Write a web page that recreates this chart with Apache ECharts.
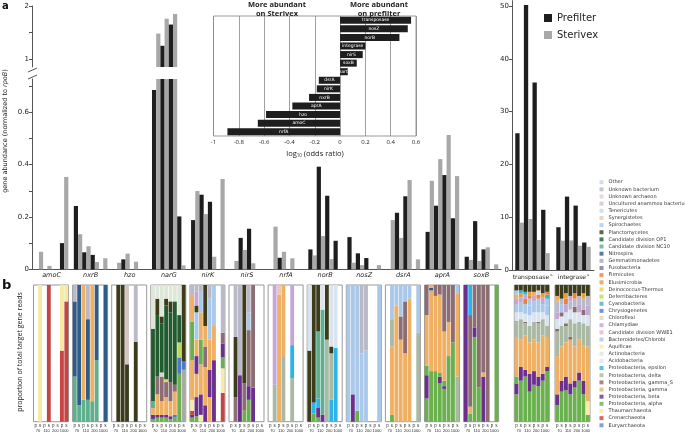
<!DOCTYPE html>
<html>
<head>
<meta charset="utf-8">
<script src="https://cdn.jsdelivr.net/npm/echarts@6/dist/echarts.min.js"></script>
<style>
html, body { margin: 0; padding: 0; background: #fff; }
#chart { width: 685px; height: 433px; }
</style>
</head>
<body>
<div id="chart"></div>
<script>
// panel a: abundance normalized to rpoB, order p70 s70 p110 s110 p200 s200 p1000 s1000
var genes = ['amoC', 'nxrB', 'hzo', 'narG', 'nirK', 'nirS', 'nrfA', 'norB', 'nosZ', 'dsrA', 'aprA', 'soxB'];
var mobileGenes = ['transposase', 'integrase'];
var depths = ['70', '110', '200', '1000'];
var fractions = ['p70', 's70', 'p110', 's110', 'p200', 's200', 'p1000', 's1000'];

var amoC = [0, 0.067, 0, 0.013, 0, 0, 0.10, 0.353];
var nxrB = [0.242, 0.134, 0.065, 0.088, 0.055, 0.028, 0, 0.042];
var hzo  = [0, 0.025, 0.038, 0.06, 0, 0.029, 0, 0];
var narG = [0.685, 1.48, 1.25, 1.76, 1.65, 1.85, 0.202, 0.015];
var nirK = [0.188, 0.299, 0.285, 0.211, 0.258, 0.048, 0, 0.345];
var nirS = [0, 0.032, 0.12, 0.074, 0.155, 0.023, 0, 0];
var nrfA = [0, 0.163, 0.044, 0.067, 0, 0.042, 0, 0];
var norB = [0.076, 0.053, 0.392, 0.127, 0.281, 0.039, 0.109, 0];
var nosZ = [0.123, 0.025, 0.061, 0.016, 0.043, 0, 0, 0.016];
var dsrA = [0, 0.188, 0.216, 0.12, 0.279, 0.341, 0, 0.038];
var aprA = [0.143, 0.338, 0.243, 0.421, 0.36, 0.513, 0.195, 0.356];
var soxB = [0.048, 0.036, 0.184, 0.032, 0.076, 0.084, 0, 0.019];
var transposase = [25.9, 8.96, 50.2, 9.66, 35.5, 5.68, 11.4, 3.2];
var integrase   = [8.1, 5.55, 13.9, 5.6, 12.2, 4.6, 5.2, 4.4];

// inset: log10 odds ratio
var insetGenes = ['transposase', 'nosZ', 'norB', 'integrase', 'nirS', 'soxB', 'narG', 'dsrA', 'nirK', 'nxrB', 'aprA', 'hzo', 'amoC', 'nrfA'];
var insetLogOdds = [0.561, 0.535, 0.469, 0.2, 0.179, 0.132, 0.061, -0.168, -0.184, -0.245, -0.377, -0.585, -0.65, -0.89];

// panel b: taxa
var taxa = ['Other', 'Unknown bacterium', 'Unknown archaeon', 'Uncultured anammox bacterium', 'Tenericutes',
  'Synergistetes', 'Spirochaetes', 'Planctomycetes', 'Candidate division OP1', 'Candidate division NC10',
  'Nitrospira', 'Gemmatimonadetes', 'Fusobacteria', 'Firmicutes', 'Elusimicrobia', 'Deinococcus-Thermus',
  'Deferribacteres', 'Cyanobacteria', 'Chrysiogenetes', 'Chloroflexi', 'Chlamydiae', 'Candidate division WWE1',
  'Bacteroidetes/Chlorobi', 'Aquificae', 'Actinobacteria', 'Acidobacteria', 'Proteobacteria, epsilon',
  'Proteobacteria, delta', 'Proteobacteria, gamma_S', 'Proteobacteria, gamma', 'Proteobacteria, beta',
  'Proteobacteria, alpha', 'Thaumarchaeota', 'Crenarchaeota', 'Euryarchaeota'];
var taxKeys = ['oth', 'unb', 'una', 'ana', 'ten', 'syn', 'spi', 'pla', 'op1', 'nc10', 'nit', 'gem', 'fus', 'fir',
  'elu', 'dei', 'def', 'cya', 'chr', 'chl', 'chm', 'wwe', 'bac', 'aqu', 'act', 'aci', 'eps', 'del', 'gS', 'gam',
  'bet', 'alp', 'tha', 'cre', 'eur'];
var taxColors = ['#c9d7e8', '#b9b9c9', '#d5d5d5', '#d6c4c4', '#c3d9ec', '#f0c6a6', '#a8c9ea', '#3c3c1c', '#215b2f',
  '#5fae8e', '#2f5d8a', '#a9a9a9', '#7474ae', '#e9843e', '#e5a03c', '#f1d04b', '#bfd75b', '#3fb1c4', '#4d7ac8',
  '#e6d3ae', '#c6a6d6', '#e6b4c6', '#a9c8ea', '#f6eba9', '#dfe8d8', '#dae4ef', '#2bb3ea', '#a9b9a3', '#8c6d74',
  '#f0b063', '#6b2f8e', '#6bb04e', '#f6e9a2', '#c84444', '#5b8bd3'];

// each bar: [taxon, cumulative top] from bottom to top
var amoC_b = [[], [['tha', 1]], [], [['cre', 1]], [], [], [['cre', .52], ['tha', 1]], [['cre', .88], ['tha', 1]]];
var nxrB_b = [[['nc10', .33], ['nit', .88], ['unb', 1]], [['nc10', .12], ['nit', 1]], [['nc10', .16], ['gam', 1]],
  [['nc10', .16], ['nit', .75], ['unb', 1]], [['nc10', .15], ['gam', 1]], [['nc10', .45], ['nit', 1]], [], [['nit', 1]]];
var hzo_b = [[], [['pla', 1]], [['pla', 1]], [['pla', .42], ['ana', 1]], [], [['pla', .585], ['unb', 1]], [], []];
var narG_b = [
  [['alp', .02], ['bet', .05], ['gam', .1], ['nc10', .15], ['op1', .68], ['act', 1]],
  [['alp', .03], ['bet', .05], ['gam', .2], ['gS', .33], ['op1', .78], ['pla', .9], ['act', 1]],
  [['alp', .03], ['bet', .05], ['gam', .15], ['gS', .33], ['una', .36], ['op1', .72], ['pla', .77], ['act', 1]],
  [['alp', .03], ['bet', .05], ['gam', .18], ['gS', .29], ['dei', .31], ['op1', .85], ['pla', .9], ['act', 1]],
  [['alp', .02], ['bet', .04], ['gam', .15], ['gS', .29], ['op1', .8], ['pla', .88], ['act', 1]],
  [['alp', .03], ['chr', .05], ['gam', .22], ['gS', .27], ['op1', .88], ['act', 1]],
  [['alp', .35], ['chr', .47], ['def', .58], ['op1', .78], ['act', 1]],
  [['gem', .38], ['chr', .44], ['pla', 1]]];
var nirK_b = [
  [['alp', .03], ['bet', .05], ['cre', .08], ['aqu', .16], ['gam', .45], ['alp', .73], ['gam', .92], ['unb', 1]],
  [['alp', .04], ['bet', .18], ['gam', .35], ['bet', .48], ['gam', .6], ['spi', .8], ['pla', .85], ['chm', .95], ['unb', 1]],
  [['aqu', .05], ['bet', .2], ['gam', .42], ['alp', .6], ['gam', .8], ['spi', .95], ['unb', 1]],
  [['bet', .12], ['gam', .4], ['gS', .55], ['gam', .7], ['pla', 1]],
  [['gam', .18], ['bet', .38], ['gam', .6], ['spi', .9], ['unb', 1]],
  [['bet', .45], ['gam', .7], ['spi', 1]],
  [],
  [['cre', .21], ['aqu', .39], ['alp', .47], ['bet', .57], ['gS', .65], ['unb', 1]]];
var nirS_b = [[], [['gS', .18], ['pla', .62], ['unb', 1]], [['bet', .34], ['unb', 1]], [['alp', .08], ['gS', .28], ['pla', 1]],
  [['alp', .16], ['bet', .26], ['gS', .67], ['spi', .8], ['unb', 1]], [['bet', .25], ['gS', 1]], [], []];
var nrfA_b = [[], [['del', .27], ['chm', 1]], [['gam', .93], ['syn', 1]], [['del', .48], ['gam', 1]], [],
  [['del', .32], ['eps', .56], ['chm', 1]], [], []];
var norB_b = [[['pla', .52], ['aci', 1]], [['alp', .06], ['eps', .14], ['pla', 1]],
  [['alp', .03], ['bet', .1], ['eps', .17], ['nc10', .66], ['pla', 1]], [['bet', .05], ['nc10', .82], ['aci', 1]],
  [['del', .6], ['pla', 1]], [['eps', .16], ['del', .5], ['pla', .55], ['aci', 1]], [['eps', .54], ['aci', 1]], []];
var nosZ_b = [[['bac', 1]], [['bet', .2], ['bac', 1]], [['alp', .08], ['bac', 1]], [['bac', .5], ['unb', 1]],
  [['bac', .52], ['unb', 1]], [], [], [['bac', 1]]];
var dsrA_b = [[], [['alp', .05], ['gam', .55], ['del', .75], ['bac', 1]], [['gam', .85], ['bac', 1]],
  [['gam', .6], ['gS', .77], ['bac', 1]], [['gam', .5], ['gS', .88], ['bac', 1]], [['gam', .9], ['bac', 1]], [],
  [['del', .65], ['bac', 1]]];
var aprA_b = [
  [['alp', .17], ['bet', .34], ['alp', .41], ['gam', .78], ['gS', 1]],
  [['alp', .37], ['gam', .96], ['nit', .98], ['gam', 1]],
  [['alp', .37], ['gam', .92], ['gS', 1]],
  [['alp', .28], ['bet', .33], ['alp', .36], ['gam', .93], ['gS', 1]],
  [['alp', .24], ['bet', .26], ['alp', .3], ['gam', .66], ['gS', 1]],
  [['alp', .48], ['gam', .73], ['gS', 1]],
  [['alp', .58], ['gS', 1]],
  [['del', .33], ['gam', .94], ['bac', 1]]];
var soxB_b = [[['bet', 1]], [['alp', .06], ['gam', .11], ['gS', .78], ['eps', 1]], [['alp', .62], ['bet', .69], ['gS', 1]],
  [['alp', .25], ['gS', 1]], [['bet', .33], ['gam', .36], ['gS', 1]], [['gS', 1]], [], [['alp', 1]]];
var transposase_b = [
  [['alp', .2], ['bet', .28], ['alp', .33], ['gam', .62], ['del', .74], ['aci', .8], ['bac', .86], ['chm', .9], ['gam', .93], ['spi', .96], ['pla', 1]],
  [['alp', .3], ['bet', .4], ['gam', .6], ['del', .75], ['aci', .8], ['bac', .87], ['chm', .91], ['elu', .94], ['eps', .96], ['pla', 1]],
  [['alp', .33], ['bet', .38], ['gam', .63], ['del', .72], ['gS', .73], ['aci', .79], ['bac', .86], ['fir', .9], ['chm', .93], ['cya', .95], ['pla', 1]],
  [['alp', .22], ['bet', .35], ['gam', .58], ['del', .7], ['aci', .78], ['bac', .85], ['spi', .9], ['fir', .92], ['elu', .95], ['pla', 1]],
  [['alp', .27], ['bet', .37], ['gam', .6], ['del', .73], ['aci', .8], ['bac', .88], ['chm', .92], ['gam', .95], ['pla', 1]],
  [['alp', .26], ['bet', .33], ['gam', .58], ['del', .72], ['gS', .73], ['aci', .8], ['bac', .86], ['spi', .9], ['fir', .93], ['una', .96], ['pla', 1]],
  [['alp', .3], ['bet', .35], ['gam', .63], ['del', .75], ['aci', .8], ['bac', .86], ['chm', .91], ['elu', .94], ['pla', 1]],
  [['alp', .37], ['bet', .4], ['gam', .62], ['del', .7], ['aci', .78], ['bac', .85], ['spi', .9], ['cya', .93], ['fir', .95], ['pla', 1]]];
var integrase_b = [
  [['alp', .12], ['bet', .2], ['gam', .48], ['del', .66], ['gS', .68], ['aci', .75], ['chm', .8], ['unb', .88], ['gam', .92], ['pla', 1]],
  [['alp', .22], ['bet', .3], ['gam', .55], ['del', .7], ['aci', .77], ['gS', .8], ['spi', .86], ['unb', .9], ['pla', 1]],
  [['alp', .23], ['bet', .33], ['gam', .58], ['del', .7], ['gS', .72], ['aci', .8], ['chm', .86], ['fir', .9], ['elu', .94], ['pla', 1]],
  [['alp', .2], ['bet', .28], ['gam', .6], ['gS', .62], ['del', .75], ['aci', .82], ['unb', .88], ['chm', .92], ['pla', 1]],
  [['alp', .25], ['bet', .3], ['gam', .55], ['del', .72], ['aci', .8], ['gS', .84], ['unb', .9], ['fir', .94], ['pla', 1]],
  [['alp', .3], ['bet', .36], ['gam', .6], ['del', .73], ['aci', .8], ['chm', .86], ['unb', .92], ['pla', 1]],
  [['alp', .2], ['bet', .3], ['gam', .56], ['del', .72], ['aci', .78], ['gS', .82], ['unb', .9], ['elu', .94], ['pla', 1]],
  [['alp', .05], ['aqu', .15], ['gam', .55], ['del', .7], ['aci', .78], ['chm', .85], ['unb', .92], ['pla', 1]]];

var geneRows = [amoC, nxrB, hzo, narG, nirK, nirS, nrfA, norB, nosZ, dsrA, aprA, soxB];
var mobileRows = [transposase, integrase];
var stacks = [amoC_b, nxrB_b, hzo_b, narG_b, nirK_b, nirS_b, nrfA_b, norB_b, nosZ_b, dsrA_b, aprA_b, soxB_b, transposase_b, integrase_b];

var chart = echarts.init(document.getElementById('chart'));
var FONT = 'DejaVu Sans';
var axisGray = '#555';
var barColors = ['#1e1e1e', '#a8a8a8'];
var lowMax = 0.727, highMin = 0.85;

var grids = [
  { left: 32, top: 79, width: 469, height: 190.3 },          // a lower
  { left: 32, top: 6, width: 469, height: 61 },              // a upper (break)
  { left: 213.5, top: 16, width: 202.5, height: 120, show: true, borderColor: '#999', borderWidth: 1, backgroundColor: '#fff' },
  { left: 512, top: 0.7, width: 82, height: 269.3 }          // transposase / integrase
];
var xAxes = [
  { gridIndex: 0, type: 'category', data: genes,
    axisLine: { lineStyle: { color: axisGray } }, axisTick: { length: 4, lineStyle: { color: axisGray } },
    axisLabel: { fontStyle: 'italic', fontSize: 6.5, color: '#222', margin: 3, fontFamily: FONT, interval: 0 } },
  { gridIndex: 1, type: 'category', data: genes, show: false },
  { gridIndex: 2, type: 'value', min: -1, max: 0.6, interval: 0.2,
    axisLine: { show: false }, axisTick: { show: false },
    axisLabel: { fontSize: 6, color: '#222', margin: 3, fontFamily: 'Open Sans' },
    splitLine: { show: true, lineStyle: { color: '#888', width: 0.8 } } },
  { gridIndex: 3, type: 'category', data: mobileGenes,
    axisLine: { lineStyle: { color: axisGray } }, axisTick: { length: 4, lineStyle: { color: axisGray } },
    axisLabel: { margin: 3, interval: 0, formatter: function (v) { return '{n|' + v + '}{s|a}'; },
      rich: { n: { fontSize: 6, color: '#222', fontFamily: FONT }, s: { fontSize: 4, color: '#444', verticalAlign: 'top', padding: [0, 0, 4, 1] } } } }
];
var yAxes = [
  { gridIndex: 0, type: 'value', min: 0, max: lowMax,
    axisLine: { show: true, lineStyle: { color: axisGray } },
    axisTick: { show: true, length: 3, lineStyle: { color: axisGray }, customValues: [0, 0.1, 0.2, 0.3, 0.4, 0.5, 0.6, 0.7] },
    axisLabel: { customValues: [0, 0.2, 0.4, 0.6], fontSize: 7, color: '#222', margin: 3, fontFamily: FONT },
    splitLine: { show: false } },
  { gridIndex: 1, type: 'value', min: highMin, max: 2,
    axisLine: { show: true, lineStyle: { color: axisGray } },
    axisTick: { show: true, length: 3, lineStyle: { color: axisGray }, customValues: [1, 1.5, 2] },
    axisLabel: { customValues: [1, 2], fontSize: 7, color: '#222', margin: 3, fontFamily: FONT },
    splitLine: { show: false } },
  { gridIndex: 2, type: 'category', data: insetGenes, inverse: true, show: false },
  { gridIndex: 3, type: 'value', min: 0, max: 51,
    axisLine: { show: true, lineStyle: { color: axisGray } },
    axisTick: { show: true, length: 3, lineStyle: { color: axisGray }, customValues: [0, 10, 20, 30, 40, 50] },
    axisLabel: { customValues: [0, 10, 20, 30, 40, 50], fontSize: 7, color: '#222', margin: 3, fontFamily: FONT },
    splitLine: { show: false } }
];

var series = [];
fractions.forEach(function (f, j) {
  var name = j % 2 ? 'Sterivex' : 'Prefilter';
  var color = barColors[j % 2];
  series.push({ type: 'bar', name: name, xAxisIndex: 0, yAxisIndex: 0, barGap: 0, barCategoryGap: '14%',
    itemStyle: { color: color }, data: geneRows.map(function (r) { return r[j]; }) });
  series.push({ type: 'bar', name: name, xAxisIndex: 1, yAxisIndex: 1, barGap: 0, barCategoryGap: '14%',
    itemStyle: { color: color }, data: geneRows.map(function (r) { return r[j] > highMin ? r[j] : '-'; }) });
  series.push({ type: 'bar', name: name, xAxisIndex: 3, yAxisIndex: 3, barGap: 0, barCategoryGap: '16%',
    itemStyle: { color: color }, data: mobileRows.map(function (r) { return r[j]; }) });
});

series.push({ type: 'bar', xAxisIndex: 2, yAxisIndex: 2, barCategoryGap: '18%', itemStyle: { color: '#1e1e1e' },
  data: insetLogOdds,
  label: { show: true, position: 'inside', color: '#fff', fontSize: 4.5, fontFamily: FONT,
    formatter: function (p) { return p.name; } } });

// panel b grids
stacks.forEach(function (bars, p) {
  var left = p < 12 ? 33.5 + p * 39.1 : [514.3, 555][p - 12];
  grids.push({ left: left, top: 285, width: 35, height: 136.7, show: true, borderColor: '#999', borderWidth: 1 });
  var gi = grids.length - 1;
  xAxes.push({ gridIndex: gi, type: 'category', data: fractions,
    axisLine: { show: false }, axisTick: { show: false },
    axisLabel: { interval: 0, fontSize: 4.5, color: '#333', margin: 2, formatter: function (v) { return v.charAt(0); } } });
  var xi = xAxes.length - 1;
  xAxes.push({ gridIndex: gi, type: 'category', data: depths, position: 'bottom', offset: 5,
    axisLine: { show: false }, axisTick: { show: false },
    axisLabel: { interval: 0, fontSize: 4, color: '#333', margin: 2 } });
  yAxes.push({ gridIndex: gi, type: 'value', min: 0, max: 1, show: false });
  var yi = yAxes.length - 1;
  var n = Math.max.apply(null, bars.map(function (b) { return b.length; }));
  for (var k = 0; k < n; k++) {
    series.push({ type: 'bar', stack: 'b' + p, xAxisIndex: xi, yAxisIndex: yi, barCategoryGap: '12%', silent: true,
      data: bars.map(function (b) {
        if (!b[k]) return '-';
        var prev = k ? b[k - 1][1] : 0;
        return { value: +(b[k][1] - prev).toFixed(3), itemStyle: { color: taxColors[taxKeys.indexOf(b[k][0])] } };
      }) });
  }
});

// legend-only series for the taxa
taxa.forEach(function (t, i) {
  series.push({ type: 'scatter', name: t, xAxisIndex: 0, yAxisIndex: 0, data: [], itemStyle: { color: taxColors[i] } });
});

var option = {
  animation: false,
  backgroundColor: '#fff',
  grid: grids,
  xAxis: xAxes,
  yAxis: yAxes,
  series: series,
  legend: [
    { data: ['Prefilter', 'Sterivex'], left: 544, top: 12, orient: 'vertical', padding: 0, itemWidth: 8, itemHeight: 8,
      itemGap: 5, icon: 'rect', selectedMode: false,
      textStyle: { fontSize: 10, color: '#222', fontFamily: FONT, lineHeight: 12 } },
    { data: taxa, left: 599.5, top: 178.6, orient: 'vertical', padding: 0, itemWidth: 4, itemHeight: 4,
      itemGap: 0, icon: 'rect', selectedMode: false,
      textStyle: { fontSize: 5, color: '#333', fontFamily: FONT, lineHeight: 7.15 } }
  ],
  graphic: [
    { type: 'text', left: 2, top: 1, style: { text: 'a', fontSize: 10, fontWeight: 'bold', fill: '#111', fontFamily: FONT } },
    { type: 'text', left: 2, top: 279, style: { text: 'b', fontSize: 13, fontWeight: 'bold', fill: '#111', fontFamily: FONT } },
    { type: 'text', x: 5, y: 131, rotation: Math.PI / 2,
      style: { text: '{n|gene abundance (normalized to }{i|rpoB}{n|)}', align: 'center', verticalAlign: 'middle',
        textAlign: 'center', textVerticalAlign: 'middle',
        rich: { n: { fontSize: 6.5, fill: '#222', fontFamily: FONT }, i: { fontSize: 6.5, fill: '#222', fontFamily: FONT, fontStyle: 'italic' } } } },
    { type: 'text', x: 20, y: 352, rotation: Math.PI / 2,
      style: { text: 'proportion of total target gene reads', align: 'center', verticalAlign: 'middle',
        textAlign: 'center', textVerticalAlign: 'middle', fontSize: 7, fill: '#222', fontFamily: 'Open Sans' } },
    { type: 'text', x: 277, y: 1,
      style: { text: 'More abundant\non Sterivex', align: 'center', textAlign: 'center', fontSize: 7.5, lineHeight: 8.5,
        fontWeight: 'bold', fill: '#222', fontFamily: 'Open Sans' } },
    { type: 'text', x: 379, y: 1,
      style: { text: 'More abundant\non prefilter', align: 'center', textAlign: 'center', fontSize: 7.5, lineHeight: 8.5,
        fontWeight: 'bold', fill: '#222', fontFamily: 'Open Sans' } },
    { type: 'text', x: 315, y: 154,
      style: { text: '{n|log}{s|10}{n| (odds ratio)}', align: 'center', verticalAlign: 'middle',
        textAlign: 'center', textVerticalAlign: 'middle',
        rich: { n: { fontSize: 7.5, fill: '#222', fontFamily: 'Open Sans' }, s: { fontSize: 4.5, fill: '#222', fontFamily: 'Open Sans', padding: [4, 0, 0, 0] } } } },
    { type: 'line', shape: { x1: 28, y1: 72, x2: 37, y2: 68 }, style: { stroke: axisGray, lineWidth: 1 } },
    { type: 'line', shape: { x1: 28, y1: 79, x2: 37, y2: 75 }, style: { stroke: axisGray, lineWidth: 1 } }
  ]
};
chart.setOption(option);
</script>
</body>
</html>
